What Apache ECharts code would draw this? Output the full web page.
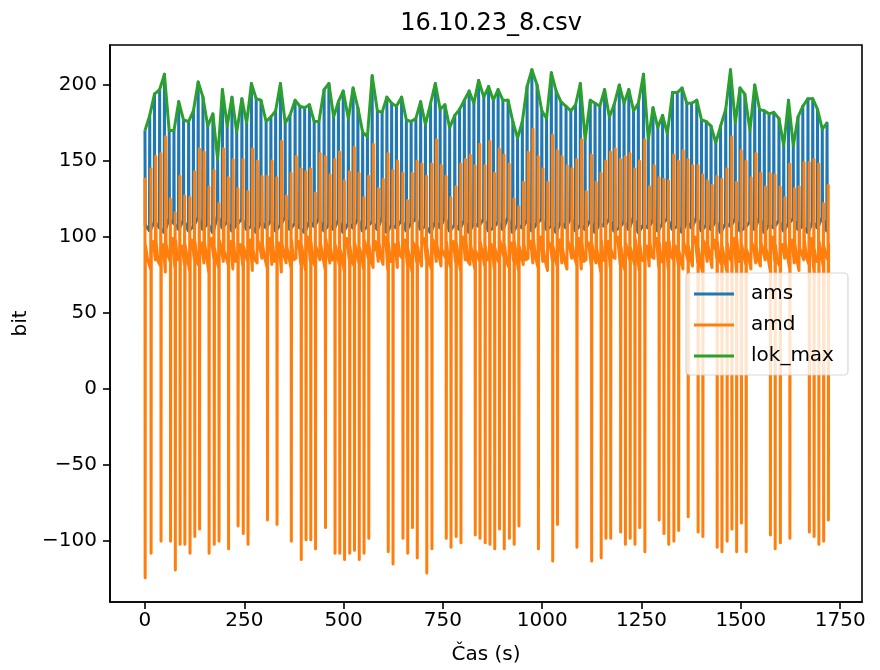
<!DOCTYPE html>
<html>
<head>
<meta charset="utf-8">
<script src="https://cdn.jsdelivr.net/npm/echarts@6/dist/echarts.min.js"></script>
<style>
html,body{margin:0;padding:0;background:#fff;}
#chart{width:880px;height:670px;}
</style>
</head>
<body>
<div id="chart"></div>
<script>
// Peak times of each cycle (s)
const times = [0,12,24,37,49,61,73,85,97,110,
122,134,146,158,171,183,195,207,219,231,
244,256,268,280,292,305,317,329,341,353,
365,378,390,402,414,426,438,451,463,475,
487,499,512,524,536,548,560,572,585,597,
609,621,633,646,658,670,682,694,706,719,
731,743,755,767,780,792,804,816,828,840,
853,865,877,889,901,914,926,938,950,962,
974,987,999,1011,1023,1035,1047,1060,1072,1084,
1096,1108,1121,1133,1145,1157,1169,1181,1194,1206,
1218,1230,1242,1255,1267,1279,1291,1303,1315,1328,
1340,1352,1364,1376,1389,1401,1413,1425,1437,1449,
1462,1474,1486,1498,1510,1523,1535,1547,1559,1571,
1583,1596,1608,1620,1632,1644,1656,1669,1681,1693,
1705,1717];
// amd peak lags the ams peak by this many seconds
const amdLag = [3];
// Local maxima of ams (= lok_max)
const lokMax = [170,180,194,197,207,170,170,189,177,176,
183,202,192,173,181,151,197,173,192,169,
191,175,201,191,190,176,179,183,201,175,
180,190,186,185,187,176,176,197,201,179,
189,196,178,198,185,169,166,206,183,182,
192,188,186,192,177,176,178,189,174,188,
201,184,187,172,180,184,190,196,188,203,
192,199,190,197,190,190,176,165,176,199,
210,200,183,178,208,196,189,186,183,187,
201,164,190,188,186,197,179,187,200,188,
197,183,188,207,164,185,172,180,168,195,
195,198,188,188,190,177,176,173,162,173,
184,210,175,198,194,170,200,184,183,181,
182,178,160,190,160,179,186,191,191,184,
171,175];
// ams level between peaks
const amsLow = [108,104,110,106,103,112,109,105,111,104,
107,113,105,109,103,114,106,110,104,108,
112,105,107,103,110,106,111,104,108,113,
105,109,106,103,110,107,112,104,108,105,
111,103,109,106,112,104,107,110,105,113,
103,108,106,111,104,109,112,105,107,103,
110,106,113,104,108,105,111,103,109,107,
112,104,106,110,105,113,103,108,106,111,
104,109,112,105,107,103,110,106,113,104,
108,105,111,103,109,107,112,104,106,110,
105,113,103,108,106,111,104,109,112,105,
107,103,110,106,113,104,108,105,111,103,
109,107,112,104,106,110,105,113,103,108,
106,111,104,109,112,105,107,103,110,106,
113,104];
// amd peak per cycle
const amdPeak = [139,145,153,155,166,125,116,140,127,126,
143,158,156,133,144,122,158,139,151,132,
151,130,158,150,140,140,150,139,163,127,
142,153,145,143,145,129,155,153,141,151,
156,137,143,159,142,126,140,161,132,138,
155,144,150,142,124,142,150,148,140,148,
164,147,140,126,133,148,151,154,147,161,
147,163,142,158,154,148,125,120,136,156,
171,153,145,136,167,157,153,147,145,151,
164,130,154,136,142,150,156,158,151,153,
155,145,150,164,133,147,139,138,137,154,
150,157,151,147,147,141,137,134,140,138,
145,166,136,157,150,139,155,142,133,142,
141,133,126,148,132,133,149,149,151,148,
122,134];
// amd negative dip per cycle (null = none)
const amdDip = [-124,-108,null,-100,null,-100,-119,-102,-102,-108,
-97,-92,null,-108,-102,-100,null,-105,null,-90,
-95,-102,null,null,null,-86,null,-89,null,null,
-100,null,-112,-99,-99,-105,null,-91,null,-108,
-108,-112,-108,-106,-112,-108,-98,null,null,null,
-107,-115,null,-98,-108,-91,-111,null,-121,-105,
null,null,-98,-104,-97,-101,null,null,-96,-98,
-101,-102,-105,-92,-105,-98,-102,-90,null,null,
null,-105,null,null,-113,-89,null,null,null,-104,
null,null,-113,null,-111,-98,-98,null,-94,-102,
-98,-102,-91,-107,null,null,-86,-95,-102,-100,
-93,null,-84,null,-94,-97,null,null,-104,-107,
-100,-92,-107,-88,-107,null,null,null,null,-96,
-105,-101,null,-98,null,null,null,-94,-97,-102,
-100,-86];
// amd level just after the peak
const amdBaseA = [95,93,97,92,96,94,98,91,95,93,
97,92,96,94,93,98,91,95,97,93,
94,96,92,98,95,93,97,91,96,94,
98,93,95,92,97,94,96,99,93,95,
92,97,94,96,93,98,95,91,97,94,
96,93,98,95,92,97,94,96,93,99,
95,92,97,94,96,93,98,95,91,97,
94,96,93,98,95,92,97,94,96,93,
99,95,92,97,94,96,93,98,95,91,
97,94,96,93,98,95,92,97,94,96,
93,99,95,92,97,94,96,93,98,95,
91,97,94,96,93,98,95,92,97,94,
96,93,99,95,92,97,94,96,93,98,
95,91,97,94,96,93,98,95,92,97,
94,96];
// amd level in the middle of the cycle
const amdMid = [86,97,84,95,88,99,85,94,87,98,
84,96,88,99,85,93,87,97,84,95,
89,98,85,94,87,99,84,96,88,93,
85,97,87,100,84,95,88,98,85,94,
87,99,84,96,88,93,85,97,87,100,
84,95,88,98,85,94,87,99,84,96,
88,93,85,97,87,100,84,95,88,98,
85,94,87,99,84,96,88,93,85,97,
87,100,84,95,88,98,85,94,87,99,
84,96,88,93,85,97,87,100,84,95,
88,98,85,94,87,99,84,96,88,93,
85,97,87,100,84,95,88,98,85,94,
87,99,84,96,88,93,85,97,87,100,
84,95,88,98,85,94,87,99,84,96,
88,93];
// amd level just before the peak
const amdBaseB = [83,79,85,81,77,84,80,86,82,78,
85,81,83,77,86,80,84,82,79,85,
81,84,78,83,86,80,82,85,77,83,
80,86,82,78,84,81,85,79,83,87,
82,78,85,81,83,79,86,80,84,82,
78,84,80,86,82,77,83,81,85,79,
84,81,86,80,83,78,85,82,79,84,
81,85,79,83,87,80,84,78,82,86,
83,80,84,78,85,81,83,79,86,82,
79,85,81,83,77,84,80,86,82,78,
85,82,78,84,81,86,80,83,79,85,
82,79,85,81,83,77,84,80,86,82,
78,84,80,86,82,79,83,81,85,79,
84,81,86,80,83,78,85,82,79,84,
81,85];
const xTicks = [0,250,500,750,1000,1250,1500,1750];
const yTicks = [-100,-50,0,50,100,150,200];

const amsData = [], amdData = [], lokData = [];
const lag = amdLag[0];
for (let i = 0; i < times.length; i++) {
  const t = times[i];
  if (i > 0) amsData.push([t - 0.7, amsLow[i]]);
  amsData.push([t, lokMax[i]]);
  amsData.push([t + 0.7, amsLow[i]]);
  lokData.push([t, lokMax[i]]);
  const u = i === 0 ? 0 : t + lag;
  if (i > 0) amdData.push([u - 0.7, amdBaseB[i]]);
  amdData.push([u, amdPeak[i]]);
  if (amdDip[i] !== null) amdData.push([u + 0.5, amdDip[i]]);
  amdData.push([u + 1.0, amdBaseA[i]]);
  if (i < times.length - 1) amdData.push([u + 6, amdMid[i]]);
}

const FONT = 'DejaVu Sans';
const chart = echarts.init(document.getElementById('chart'), null, {renderer: 'canvas'});
const lineCommon = {type: 'line', showSymbol: false, symbol: 'none', animation: false, smooth: false};
chart.setOption({
  animation: false,
  backgroundColor: '#fff',
  title: {
    text: '16.10.23_8.csv', left: 486, top: 7, textAlign: 'center',
    textStyle: {fontFamily: FONT, fontSize: 24, fontWeight: 'normal', color: '#000'}
  },
  grid: {left: 110, right: 18, top: 45, bottom: 67, show: true, borderColor: '#000', borderWidth: 1.6, backgroundColor: 'transparent'},
  legend: {
    orient: 'vertical', left: 686, top: 273,
    data: ['ams', 'amd', 'lok_max'],
    icon: 'rect', itemWidth: 40, itemHeight: 3, itemGap: 11,
    padding: [11, 14, 9, 8],
    backgroundColor: 'rgba(255,255,255,0.8)', borderColor: 'rgba(204,204,204,0.8)', borderWidth: 1.2, borderRadius: 4,
    textStyle: {fontFamily: FONT, fontSize: 20, color: '#000', padding: [0, 0, 0, 12]}
  },
  xAxis: {
    type: 'value', min: -88, max: 1805,
    name: 'Čas (s)', nameLocation: 'middle', nameGap: 43,
    nameTextStyle: {fontFamily: FONT, fontSize: 20, color: '#000'},
    splitLine: {show: false},
    axisLine: {show: true, onZero: false, lineStyle: {color: '#000', width: 1.6}},
    axisTick: {show: true, length: 7, inside: false, lineStyle: {color: '#000', width: 1.6}, customValues: xTicks},
    axisLabel: {fontFamily: FONT, fontSize: 20, color: '#000', margin: 9, customValues: xTicks,
      formatter: v => String(v)}
  },
  yAxis: {
    type: 'value', min: -140, max: 226.3,
    name: 'bit', nameLocation: 'middle', nameGap: 77, nameRotate: 90,
    nameTextStyle: {fontFamily: FONT, fontSize: 20, color: '#000'},
    splitLine: {show: false},
    axisLine: {show: true, onZero: false, lineStyle: {color: '#000', width: 1.6}},
    axisTick: {show: true, length: 7, inside: false, lineStyle: {color: '#000', width: 1.6}, customValues: yTicks},
    axisLabel: {fontFamily: FONT, fontSize: 20, color: '#000', margin: 13, customValues: yTicks,
      formatter: v => (v < 0 ? '\u2212' + Math.abs(v) : String(v))}
  },
  series: [
    Object.assign({}, lineCommon, {name: 'ams', data: amsData, color: '#1f77b4',
      lineStyle: {width: 3, color: '#1f77b4', join: 'round'}}),
    Object.assign({}, lineCommon, {name: 'amd', data: amdData, color: '#ff7f0e',
      lineStyle: {width: 3, color: '#ff7f0e', join: 'round'}}),
    Object.assign({}, lineCommon, {name: 'lok_max', data: lokData, color: '#2ca02c',
      lineStyle: {width: 3, color: '#2ca02c', join: 'round'}})
  ]
});
</script>
</body>
</html>
